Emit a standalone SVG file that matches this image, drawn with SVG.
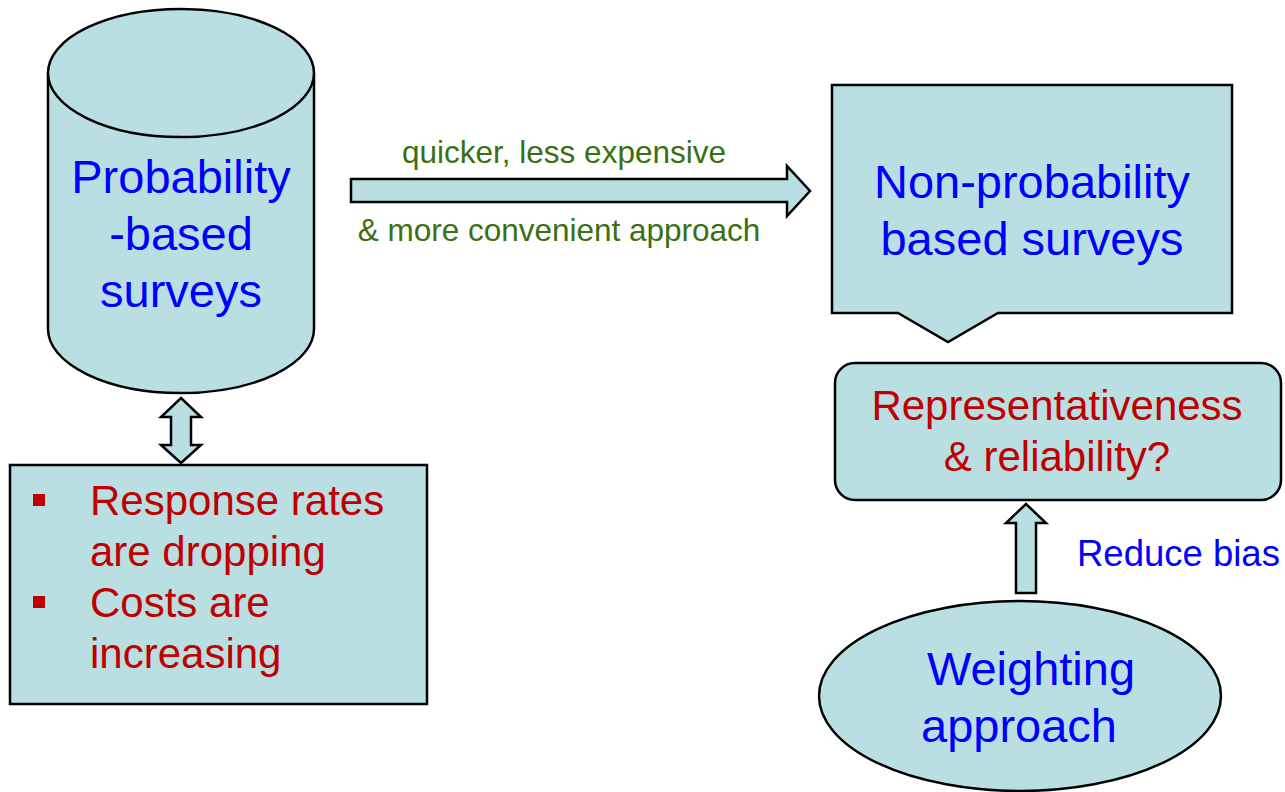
<svg xmlns="http://www.w3.org/2000/svg" width="1285" height="792" viewBox="0 0 1285 792">
  <style>
    .shape { fill: #B9DFE2; stroke: #000; stroke-width: 2.5; stroke-linejoin: miter; }
    .t { font-family: "Liberation Sans", Arial, sans-serif; }
    .c { text-anchor: middle; }
    .blue { fill: #0000FF; }
    .red { fill: #C00000; }
    .green { fill: #3A7010; }
    .big { font-size: 47px; }
    .mid { font-size: 42px; }
  </style>
  <rect width="1285" height="792" fill="#fff"/>

  <!-- Cylinder node -->
  <g id="probability-surveys">
    <path class="shape" d="M48,73 L48,329 A133,64 0 0 0 314,329 L314,73 A133,64 0 0 0 48,73 Z"/>
    <path class="shape" d="M48,73 A133,64 0 0 0 314,73" fill="none"/>
    <text class="t c blue big" x="181" y="193">Probability</text>
    <text class="t c blue big" x="181" y="250">-based</text>
    <text class="t c blue big" x="181" y="307">surveys</text>
  </g>

  <!-- Bullet box -->
  <g id="issues">
    <rect class="shape" x="10" y="465" width="417" height="239"/>
    <rect class="red" x="33" y="494" width="12" height="12"/>
    <rect class="red" x="33" y="596" width="12" height="12"/>
    <text class="t red mid" x="90" y="515">Response rates</text>
    <text class="t red mid" x="90" y="566">are dropping</text>
    <text class="t red mid" x="90" y="617">Costs are</text>
    <text class="t red mid" x="90" y="668">increasing</text>
  </g>

  <!-- Callout node -->
  <g id="non-probability-surveys">
    <path class="shape" d="M832,85 L1232,85 L1232,313 L998,313 L948,342 L898,313 L832,313 Z"/>
    <text class="t c blue big" x="1032" y="198">Non-probability</text>
    <text class="t c blue big" x="1032" y="255">based surveys</text>
  </g>

  <!-- Rounded question box -->
  <g id="representativeness">
    <rect class="shape" x="835" y="363" width="446" height="137" rx="20" ry="20"/>
    <text class="t c red mid" x="1057" y="420">Representativeness</text>
    <text class="t c red mid" x="1057" y="471">&amp; reliability?</text>
  </g>

  <!-- Ellipse node -->
  <g id="weighting">
    <ellipse class="shape" cx="1020" cy="696" rx="201" ry="95"/>
    <text class="t c blue big" x="1031" y="685">Weighting</text>
    <text class="t c blue big" x="1019" y="742">approach</text>
  </g>

  <!-- Connectors -->
  <g id="connectors">
    <!-- block arrow right -->
    <path class="shape" d="M351,179 L787,179 L787,166 L810,191 L787,216 L787,202 L351,202 Z"/>
    <text class="t c green" font-size="31.5" x="564" y="163">quicker, less expensive</text>
    <text class="t c green" font-size="31.5" x="559" y="241">&amp; more convenient approach</text>

    <!-- double arrow vertical -->
    <path class="shape" d="M181,398 L201,417 L191,417 L191,445 L201,445 L181,463 L161,445 L171,445 L171,417 L161,417 Z"/>

    <!-- up arrow -->
    <path class="shape" d="M1026,504 L1046,523 L1036,523 L1036,593 L1016,593 L1016,523 L1006,523 Z"/>
    <text class="t blue" font-size="36.5" x="1077" y="566">Reduce bias</text>
  </g>
</svg>
